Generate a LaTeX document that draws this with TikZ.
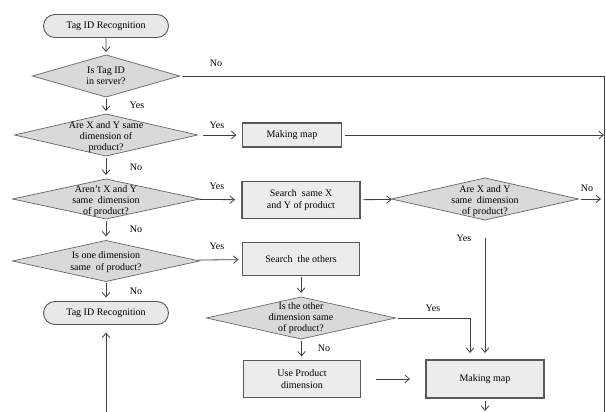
\documentclass[tikz,border=0pt]{standalone}
\usepackage{fontspec}
\setmainfont{Liberation Serif}
\usetikzlibrary{shapes.geometric,shapes.misc,arrows.meta}
\begin{document}
\begin{tikzpicture}[x=1pt,y=-1pt,
  font=\fontsize{10}{11.2}\selectfont,
  line/.style={draw=black!75, line width=0.8pt},
  arr/.style={line, -{Straight Barb[length=4.5pt,width=7.5pt]}},
  term/.style={rounded rectangle, draw=black!65, line width=0.9pt, fill=gray!18,
    minimum width=125pt, minimum height=23pt, inner sep=0pt, outer sep=0pt},
  box/.style={rectangle, draw=black!65, line width=1.5pt, fill=gray!15, align=center,
    inner sep=0pt, outer sep=0pt},
  dia/.style={diamond, draw=black!60, line width=0.7pt, fill=gray!30, inner sep=0pt, outer sep=0pt},
  dtext/.style={align=center, inner sep=0pt},
  lab/.style={inner sep=0pt}
]
\useasboundingbox (0,0) rectangle (606,412);

% nodes
\node[term] (t1) at (106,26) {Tag ID Recognition};
\node[dia, minimum width=147pt, minimum height=42pt] (d1) at (106,76) {};
\node[dtext] at (d1) {Is Tag ID\\in server?};
\node[dia, minimum width=183pt, minimum height=42pt] (d2) at (106,135) {};
\node[dtext] at (106,137) {Are X and Y same\\dimension of\\product?};
\node[box, minimum width=99pt, minimum height=24pt] (m1) at (292,135) {Making map};
\node[dia, minimum width=187pt, minimum height=40pt] (d3) at (106,199) {};
\node[dtext] at (106,201) {Aren’t X and Y\\same\ \ dimension\\of product?};
\node[box, minimum width=118pt, minimum height=37pt] (s1) at (301,200) {Search\ \ same X\\and Y of product};
\node[dia, minimum width=187pt, minimum height=42pt] (d4) at (485,199) {};
\node[dtext] at (485,201) {Are X and Y\\same\ \ dimension\\of product?};
\node[dia, minimum width=187pt, minimum height=41pt] (d5) at (106,261) {};
\node[dtext] at (106,262) {Is one dimension\\same\ \ of product?};
\node[box, minimum width=117pt, minimum height=33pt] (s2) at (301,259) {Search\ \ the others};
\node[dia, minimum width=189pt, minimum height=42pt] (d6) at (301,318) {};
\node[dtext] at (301,318) {Is the other\\dimension same\\of product?};
\node[term] (t2) at (106,313) {Tag ID Recognition};
\node[box, minimum width=117pt, minimum height=37pt] (u1) at (302,379) {Use Product\\dimension};
\node[box, minimum width=118pt, minimum height=38pt] (m2) at (485,379) {Making map};

% free ends
\coordinate (rc) at (604,76);
\coordinate (rb) at (604,412);
\coordinate (n4) at (601,199);
\coordinate (mb) at (485,411);
\coordinate (tb) at (106,412);

% connectors
\draw[arr, shorten >=3pt] (t1) -- (d1);
\draw[line, shorten <=3pt] (d1.east) -- (rc) -- (rb);
\draw[arr, shorten <=2pt, shorten >=3pt] (d1) -- (d2);
\draw[arr, shorten <=6pt, shorten >=6pt] (d2) -- (m1);
\draw[arr, shorten <=3pt] (m1.east) -- (m1.east -| rc);
\draw[arr, shorten <=2pt, shorten >=4pt] (d2) -- (d3);
\draw[arr, shorten <=2pt, shorten >=7pt] (d3) -- (s1);
\draw[arr, shorten <=3pt, shorten >=2pt] (s1) -- (d4);
\draw[arr, shorten <=2pt] (d4.east) -- (n4);
\draw[arr, shorten <=18pt, shorten >=7pt] (d4.south) -- (d4.south |- m2.north);
\draw[arr, shorten <=2pt, shorten >=4pt] (d3) -- (d5);
\draw[arr, shorten <=3pt, shorten >=4pt] (d5) -- (s2);
\draw[arr, shorten <=1pt, shorten >=4pt] (s2) -- (d6);
\draw[arr, shorten <=2pt, shorten >=7pt] (d6.east) -| ([xshift=-15pt]m2.north);
\draw[arr, shorten <=2pt, shorten >=4pt] (d6) -- (u1);
\draw[arr, shorten <=15pt, shorten >=16pt] (u1) -- (m2);
\draw[arr, shorten <=3pt] (m2.south) -- (mb);
\draw[arr, shorten <=2pt, shorten >=4pt] (d5) -- (t2);
\draw[arr, shorten >=8pt] (tb) -- (t2.south);

% labels
\node[lab] at (216,63) {No};
\node[lab] at (137,105) {Yes};
\node[lab] at (217,125) {Yes};
\node[lab] at (136,167) {No};
\node[lab] at (217,186) {Yes};
\node[lab] at (587,188) {No};
\node[lab] at (464,238) {Yes};
\node[lab] at (136,229) {No};
\node[lab] at (217,246) {Yes};
\node[lab] at (433,308) {Yes};
\node[lab] at (324,348) {No};
\node[lab] at (136,291) {No};
\end{tikzpicture}
\end{document}
